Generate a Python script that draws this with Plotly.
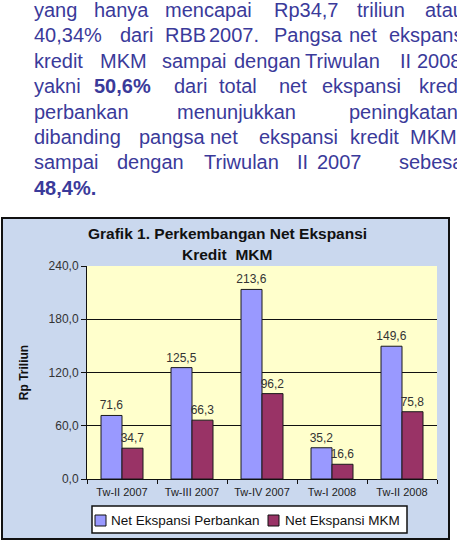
import plotly.graph_objects as go

# ---------------- data ----------------
categories = ["Tw-II 2007", "Tw-III 2007", "Tw-IV 2007", "Tw-I 2008", "Tw-II 2008"]
net_perbankan = [71.6, 125.5, 213.6, 35.2, 149.6]
net_mkm = [34.7, 66.3, 96.2, 16.6, 75.8]
series_names = ["Net Ekspansi Perbankan", "Net Ekspansi MKM"]
y_tickvals = [0, 60, 120, 180, 240]
y_ticktext = ["0,0", "60,0", "120,0", "180,0", "240,0"]

paragraph_lines = [
    [("yang", 32), ("hanya", 92), ("mencapai", 163), ("Rp34,7", 272), ("triliun", 355), ("atau", 423)],
    [("40,34%", 32), ("dari", 118), ("RBB", 163), ("2007.", 207), ("Pangsa", 272), ("net", 347), ("ekspansi", 387)],
    [("kredit", 32), ("MKM", 98), ("sampai", 160), ("dengan", 232), ("Triwulan", 303), ("II", 398), ("2008", 415)],
    [("yakni", 32), ("<b>50,6%</b>", 92), ("dari", 172), ("total", 217), ("net", 277), ("ekspansi", 320), ("kredit", 417)],
    [("perbankan", 32), ("menunjukkan", 175), ("peningkatan", 347)],
    [("dibanding", 32), ("pangsa", 137), ("net", 208), ("ekspansi", 257), ("kredit", 348), ("MKM", 408)],
    [("sampai", 32), ("dengan", 115), ("Triwulan", 202), ("II", 295), ("2007", 315), ("sebesar", 397)],
    [("<b>48,4%.</b>", 32)],
]

def fmt(v):
    return f"{v:.1f}".replace(".", ",")

# ---------------- layout geometry (pixels) ----------------
W, H = 457, 541
L, R, T, B = 87, 437, 266, 479
PW, PH = R - L, B - T

def px(x):
    return (x - L) / PW

def py(y):
    return (B - y) / PH

fig = go.Figure()
fig.add_trace(go.Bar(
    x=categories, y=net_perbankan, name=series_names[0],
    marker=dict(color="#9999FF", line=dict(color="#1a1a1a", width=1)),
    text=[fmt(v) for v in net_perbankan], textposition="outside", constraintext="none",
    textfont=dict(size=12, color="#333333", family="Liberation Sans"),
    cliponaxis=False, showlegend=False,
))
fig.add_trace(go.Bar(
    x=categories, y=net_mkm, name=series_names[1],
    marker=dict(color="#993366", line=dict(color="#1a1a1a", width=1)),
    text=[fmt(v) for v in net_mkm], textposition="outside", constraintext="none",
    textfont=dict(size=12, color="#333333", family="Liberation Sans"),
    cliponaxis=False, showlegend=False,
))

shapes = [
    # outer chart frame
    dict(type="rect", xref="paper", yref="paper", layer="below",
         x0=px(2), x1=px(449), y0=py(539), y1=py(218),
         fillcolor="#CAD8EE", line=dict(color="#111111", width=2)),
    # plot area
    dict(type="rect", xref="paper", yref="paper", layer="below",
         x0=0, x1=1, y0=0, y1=1, fillcolor="#FFFFCC", line=dict(width=0)),
    # legend box
    dict(type="rect", xref="paper", yref="paper", layer="above",
         x0=px(92), x1=px(407), y0=py(533), y1=py(506),
         fillcolor="#FFFFFF", line=dict(color="#111111", width=1.5)),
    dict(type="rect", xref="paper", yref="paper", layer="above",
         x0=px(95), x1=px(106), y0=py(526), y1=py(515),
         fillcolor="#9999FF", line=dict(color="#111111", width=1)),
    dict(type="rect", xref="paper", yref="paper", layer="above",
         x0=px(268), x1=px(279), y0=py(526), y1=py(515),
         fillcolor="#993366", line=dict(color="#111111", width=1)),
]

annotations = []
# paragraph text
for i, line in enumerate(paragraph_lines):
    baseline = 17 + 25.4 * i
    for word, x in line:
        annotations.append(dict(
            text=word, xref="paper", yref="paper", x=px(x), y=py(baseline - 7),
            xanchor="left", yanchor="middle", showarrow=False,
            font=dict(family="Liberation Sans", size=20, color="#3A3A9A"),
        ))
# chart title
annotations.append(dict(text="<b>Grafik 1. Perkembangan Net Ekspansi</b>", xref="paper", yref="paper",
                        x=px(227), y=py(233), xanchor="center", yanchor="middle", showarrow=False,
                        font=dict(family="Liberation Sans", size=15.5, color="#111111")))
annotations.append(dict(text="<b>Kredit  MKM</b>", xref="paper", yref="paper",
                        x=px(227), y=py(255), xanchor="center", yanchor="middle", showarrow=False,
                        font=dict(family="Liberation Sans", size=15.5, color="#111111")))
# legend text
annotations.append(dict(text=series_names[0], xref="paper", yref="paper",
                        x=px(109), y=py(520), xanchor="left", yanchor="middle", showarrow=False,
                        font=dict(family="Liberation Sans", size=13.5, color="#111111")))
annotations.append(dict(text=series_names[1], xref="paper", yref="paper",
                        x=px(283), y=py(520), xanchor="left", yanchor="middle", showarrow=False,
                        font=dict(family="Liberation Sans", size=13.5, color="#111111")))

fig.update_layout(
    width=W, height=H,
    margin=dict(l=L, r=W - R, t=T, b=H - B, autoexpand=False),
    paper_bgcolor="#FFFFFF", plot_bgcolor="rgba(0,0,0,0)",
    barmode="group", bargap=0.4, bargroupgap=0,
    shapes=shapes, annotations=annotations,
    font=dict(family="Liberation Sans", color="#222222"),
)
fig.update_xaxes(
    showline=True, linecolor="#111111", linewidth=1,
    ticks="outside", tickson="boundaries", ticklen=4, tickcolor="#111111",
    tickfont=dict(size=11, color="#222222"), showgrid=False, ticklabelstandoff=3,
)
fig.update_yaxes(
    range=[0, 240], tickvals=y_tickvals, ticktext=y_ticktext,
    showline=True, linecolor="#111111", linewidth=1,
    ticks="outside", ticklen=5, tickcolor="#111111",
    showgrid=True, gridcolor="#111111", gridwidth=1, zeroline=False,
    tickfont=dict(size=12, color="#333333"),
    title=dict(text="<b>Rp Triliun</b>", font=dict(size=12, color="#111111"), standoff=17),
)

fig.write_html("out.html")
